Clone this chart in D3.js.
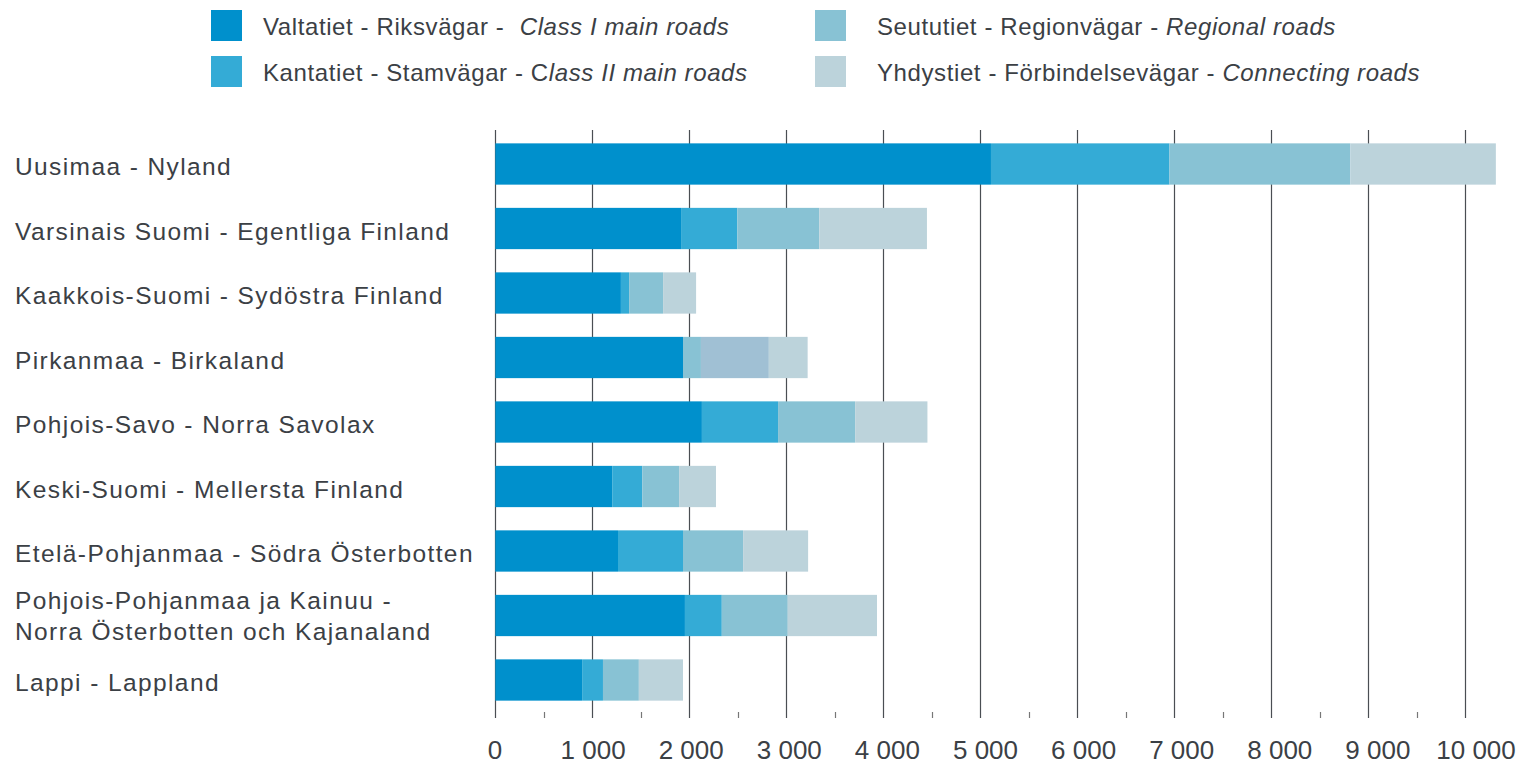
<!DOCTYPE html>
<html>
<head>
<meta charset="utf-8">
<script src="https://cdn.jsdelivr.net/npm/d3@7"></script>
<style>
	body { margin: 0; background: #fff; }
	text { font-family: "Liberation Sans", Arial, sans-serif; fill: #3b4045; }
</style>
</head>
<body>
<div id="chart-roads"></div>
<script>

// ================================================
// Data (km per region and road class)
// ================================================
const regions = [
	"Uusimaa - Nyland",
	"Varsinais Suomi - Egentliga Finland",
	"Kaakkois-Suomi - Sydöstra Finland",
	"Pirkanmaa - Birkaland",
	"Pohjois-Savo - Norra Savolax",
	"Keski-Suomi - Mellersta Finland",
	"Etelä-Pohjanmaa - Södra Österbotten",
	"Pohjois-Pohjanmaa ja Kainuu -\nNorra Österbotten och Kajanaland",
	"Lappi - Lappland"
];

const classI     = [5110, 1915, 1295, 1935, 2130, 1205, 1265, 1955, 895];
const classII    = [1840,  580,   85,  185,  785,  310,  670,  380, 215];
const regional   = [1865,  845,  350,  700,  795,  380,  620,  680, 370];
const connecting = [1500, 1110,  340,  400,  745,  380,  670,  920, 455];

const seriesKeys = ["classI", "classII", "regional", "connecting"];
const legendPlain  = ["Valtatiet - Riksvägar - ", "Kantatiet - Stamvägar - C", "Seututiet - Regionvägar - ", "Yhdystiet - Förbindelsevägar - "];
const legendItalic = ["Class I main roads", "lass II main roads", "Regional roads", "Connecting roads"];

const xTicks = [0, 1000, 2000, 3000, 4000, 5000, 6000, 7000, 8000, 9000, 10000];

// ================================================
// Layout + styles
// ================================================
const width = 1523;
const height = 766;
const colors = ["#0090cc", "#34abd6", "#88c2d4", "#bcd3db"];
// Pirkanmaa bar uses shifted colours in the original
const colorOverride = {"Pirkanmaa - Birkaland": ["#0090cc", "#88c2d4", "#a0c0d4", "#bcd3db"]};

const table = regions.map((r, i) => ({
	region: r,
	classI: classI[i],
	classII: classII[i],
	regional: regional[i],
	connecting: connecting[i]
}));

const xscale = d3.scaleLinear()
	.domain([0, 10000])
	.range([495.3, 1465.3]);

// tick labels drift a little wider than the ticks in the original
const labelScale = d3.scaleLinear()
	.domain([0, 10000])
	.range([495, 1476]);

const yscale = d3.scaleBand()
	.domain(regions)
	.range([131.75, 712.25])
	.paddingInner(0.36)
	.paddingOuter(0.18);

const svg = d3.select("#chart-roads").append("svg")
	.attr("width", width)
	.attr("height", height);

// ============================
// Grid + axis
// ============================
const grid = svg.append("g")
	.attr("stroke", "#4a4e53")
	.attr("stroke-width", 1.2);

grid.selectAll("line.major")
	.data(xTicks)
	.join("line")
	.attr("class", "major")
	.attr("x1", d => Math.round(xscale(d)) + 0.5)
	.attr("x2", d => Math.round(xscale(d)) + 0.5)
	.attr("y1", 130)
	.attr("y2", 718);

grid.selectAll("line.minor")
	.data(d3.range(500, 10000, 1000))
	.join("line")
	.attr("class", "minor")
	.attr("stroke", "#777")
	.attr("x1", d => Math.round(xscale(d)) + 0.5)
	.attr("x2", d => Math.round(xscale(d)) + 0.5)
	.attr("y1", 712)
	.attr("y2", 718);

svg.append("g")
	.selectAll("text")
	.data(xTicks)
	.join("text")
	.attr("x", d => labelScale(d))
	.attr("y", 759)
	.attr("text-anchor", "middle")
	.attr("font-size", 26)
	.text(d => d3.format(",")(d).replace(/,/g, " "));

// ============================
// Stacked bars
// ============================
const stack = d3.stack().keys(seriesKeys);
const series = stack(table);

svg.append("g")
	.selectAll("g")
	.data(series)
	.join("g")
	.selectAll("rect")
	.data((s, si) => s.map(d => Object.assign(d, {si})))
	.join("rect")
	.attr("x", d => xscale(d[0]))
	.attr("width", d => xscale(d[1]) - xscale(d[0]))
	.attr("y", d => yscale(d.data.region))
	.attr("height", yscale.bandwidth())
	.attr("fill", d => (colorOverride[d.data.region] || colors)[d.si]);

// ============================
// Category labels
// ============================
svg.append("g")
	.selectAll("text")
	.data(regions)
	.join("text")
	.attr("font-size", 24.5)
	.attr("letter-spacing", 1.4)
	.each(function(d) {
		const lines = d.split("\n");
		const cy = yscale(d) + yscale.bandwidth() / 2;
		const t = d3.select(this);
		lines.forEach((l, i) => {
			t.append("tspan")
				.attr("x", 15)
				.attr("y", cy + 11 + (i - (lines.length - 1) / 2) * 31 - (lines.length - 1) * 2)
				.text(l);
		});
	});

// ============================
// Legend
// ============================
const legend = svg.append("g")
	.selectAll("g")
	.data(seriesKeys)
	.join("g")
	.attr("transform", (d, i) => `translate(${i < 2 ? 211 : 815}, ${i % 2 === 0 ? 10 : 56})`);

legend.append("rect")
	.attr("width", 31)
	.attr("height", 31)
	.attr("fill", (d, i) => colors[i]);

const legendText = legend.append("text")
	.attr("x", (d, i) => i < 2 ? 52 : 62)
	.attr("y", 25)
	.attr("font-size", 24)
	.attr("letter-spacing", 0.6);

legendText.append("tspan")
	.text((d, i) => legendPlain[i]);

legendText.append("tspan")
	.attr("font-style", "italic")
	.attr("dx", (d, i) => i === 0 ? 8 : 0)
	.text((d, i) => legendItalic[i]);

</script>
</body>
</html>
